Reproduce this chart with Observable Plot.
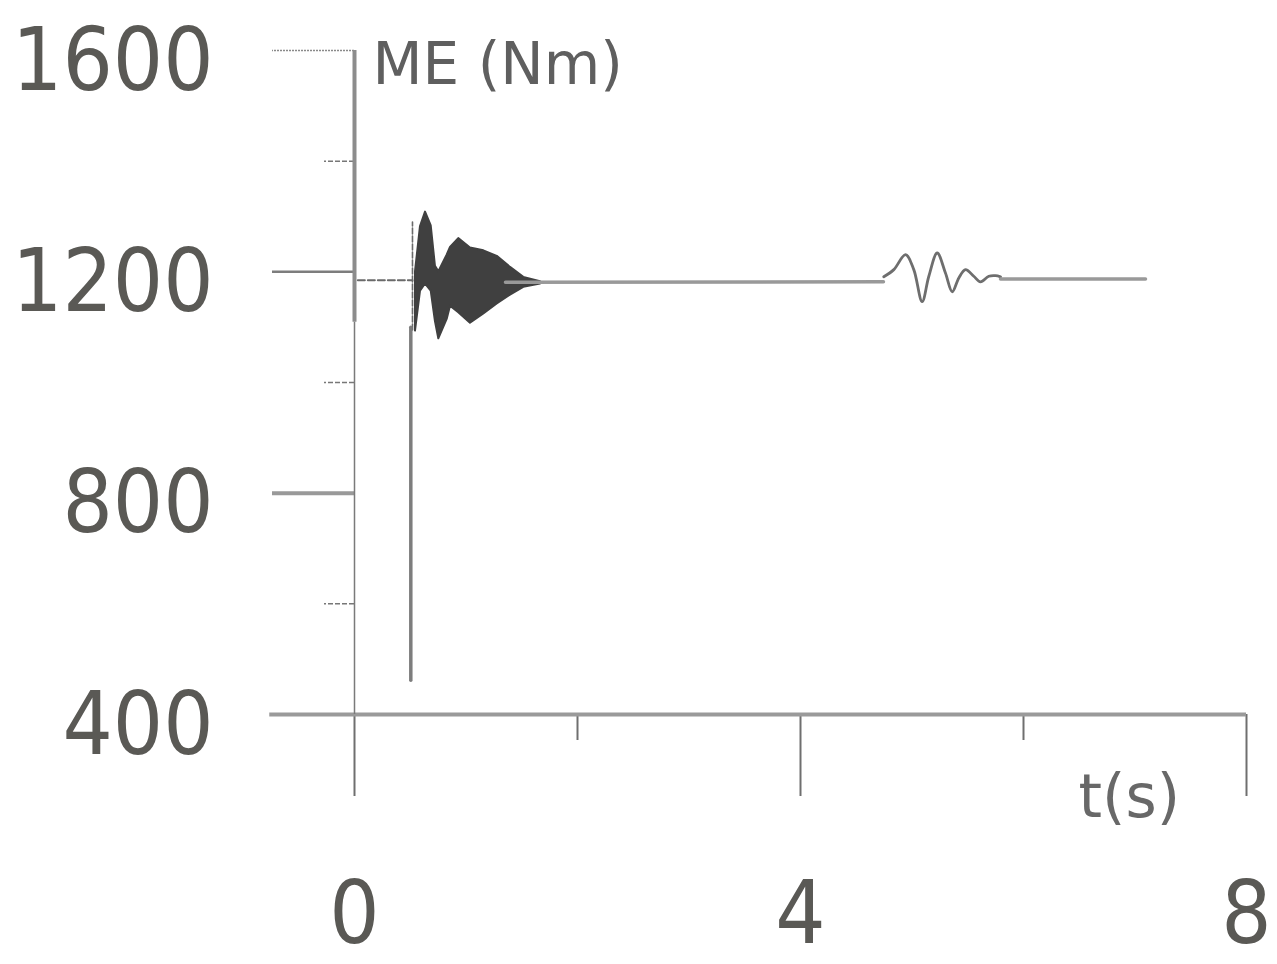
<!DOCTYPE html>
<html>
<head>
<meta charset="utf-8">
<script src="https://cdn.jsdelivr.net/npm/d3@7"></script>
<script src="https://cdn.jsdelivr.net/npm/@observablehq/plot@0.6"></script>
<style>
  html, body { margin: 0; padding: 0; background: #ffffff; }
  #chart svg [aria-label="y-axis tick label"] text,
  #chart svg [aria-label="x-axis tick label"] text { font-stretch: condensed; }
</style>
</head>
<body>
<div id="chart"></div>
<script>
// ---- data ----
const yTickLabels = [400, 800, 1200, 1600];
const xTickLabels = [0, 4, 8];
const yDottedTicks = [1600];
const yShortTicks = [1400, 1000, 600];
const xLongTicks = [0, 4, 8];
const xShortTicks = [2, 6];

// before the event (dashed)
const preT = [0.03, 0.52];
const preV = [1185, 1185];

// the switching spike
const spikeLowT = [0.505, 0.505];
const spikeLowV = [462, 1100];
const spikeHighT = [0.52, 0.52];
const spikeHighV = [1095, 1290];

// dense oscillation burst: envelope
const burstT     = [0.547, 0.592, 0.637, 0.688, 0.726, 0.756, 0.831, 0.861, 0.935, 1.040, 1.160, 1.280, 1.399, 1.518, 1.668];
const burstUpper = [1200, 1282, 1308, 1283, 1210, 1200, 1230, 1244, 1260, 1243, 1238, 1228, 1208, 1190, 1182];
const burstLower = [1093, 1165, 1178, 1165, 1110, 1079, 1114, 1138, 1126, 1107, 1124, 1142, 1158, 1172, 1178];

// steady state
const steadyT = [1.354, 4.744];
const steadyV = [1181, 1182];

// second disturbance
const wobbleT = [4.747, 4.837, 4.942, 5.016, 5.091, 5.151, 5.226, 5.300, 5.361, 5.420, 5.480, 5.554, 5.614, 5.689, 5.749, 5.794];
const wobbleV = [1191, 1204, 1231, 1204, 1146, 1192, 1234, 1198, 1164, 1189, 1204, 1192, 1182, 1192, 1193, 1191];

// final steady state
const finalT = [5.794, 7.094];
const finalV = [1187, 1187];

const yLabel = "ME (Nm)";
const xLabel = "t(s)";

const numFont = "'DejaVu Sans', sans-serif";
const numColor = "#5a5955";
const fmt = d => String(d);

const burst = burstT.map((t, i) => ({t, lo: burstLower[i], hi: burstUpper[i]}));

const chart = Plot.plot({
  width: 1277,
  height: 964,
  marginLeft: 354,
  marginRight: 31,
  marginTop: 50,
  marginBottom: 250,
  x: {domain: [0, 8], label: null},
  y: {domain: [400, 1600], label: null},
  style: {background: "#ffffff"},
  marks: [
    // y axis tick marks
    Plot.axisY({ticks: yDottedTicks, tickSize: 82, tickFormat: () => "", label: null, stroke: "#8a8a8a", strokeWidth: 1.3, strokeDasharray: "2,1"}),
    Plot.axisY({ticks: [1200], tickSize: 82, tickFormat: () => "", label: null, stroke: "#7d7d7d", strokeWidth: 2.5}),
    Plot.axisY({ticks: [800], tickSize: 82, tickFormat: () => "", label: null, stroke: "#999999", strokeWidth: 4}),
    Plot.axisY({ticks: yShortTicks, tickSize: 30, tickFormat: () => "", label: null, stroke: "#777777", strokeWidth: 1.5, strokeDasharray: "5,2"}),
    // y axis labels
    Plot.axisY({ticks: yTickLabels, tickSize: 0, tickPadding: 141, tickFormat: fmt, label: null, fontSize: 88, fontFamily: numFont, fill: numColor, dy: 11}),
    // x axis tick marks
    Plot.axisX({ticks: xLongTicks, tickSize: 82, tickFormat: () => "", label: null, stroke: "#6f6f6f", strokeWidth: 2}),
    Plot.axisX({ticks: xShortTicks, tickSize: 26, tickFormat: () => "", label: null, stroke: "#6f6f6f", strokeWidth: 2}),
    // x axis labels
    Plot.axisX({ticks: xTickLabels, tickSize: 0, tickPadding: 166, tickFormat: fmt, label: null, fontSize: 88, fontFamily: numFont, fill: numColor}),
    // axis lines
    Plot.ruleY([400], {x1: -0.76, x2: 8, stroke: "#9a9a9a", strokeWidth: 4}),
    Plot.ruleX([0], {y1: 1600, y2: 1109, stroke: "#8c8c8c", strokeWidth: 4}),
    Plot.ruleX([0], {y1: 1109, y2: 400, stroke: "#7a7a7a", strokeWidth: 1.5}),
    // data
    Plot.line(d3.zip(preT, preV), {stroke: "#6a6a6a", strokeWidth: 2, strokeDasharray: "7,3"}),
    Plot.line(d3.zip(spikeHighT, spikeHighV), {stroke: "#6a6a6a", strokeWidth: 1.6, strokeDasharray: "6,2"}),
    Plot.line(d3.zip(spikeLowT, spikeLowV), {stroke: "#7d7d7d", strokeWidth: 3.5}),
    Plot.areaY(burst, {x: "t", y1: "lo", y2: "hi", fill: "#404040", stroke: "#404040", strokeWidth: 2, curve: "linear"}),
    Plot.line(d3.zip(steadyT, steadyV), {stroke: "#999999", strokeWidth: 3.5}),
    Plot.line(d3.zip(wobbleT, wobbleV), {stroke: "#6e6e6e", strokeWidth: 2.8, curve: "catmull-rom"}),
    Plot.line(d3.zip(finalT, finalV), {stroke: "#999999", strokeWidth: 3.5}),
    // axis titles
    Plot.text([yLabel], {x: 0, y: 1600, dx: 18, dy: 15, textAnchor: "start", fontSize: 58, fontFamily: "'DejaVu Sans', sans-serif", fill: "#5f5f5f"}),
    Plot.text([xLabel], {x: 6.493, y: 400, dx: 0, dy: 83, textAnchor: "start", fontSize: 60, fontFamily: "'DejaVu Sans', sans-serif", fill: "#686868"})
  ]
});
document.getElementById("chart").appendChild(chart);
</script>
</body>
</html>
